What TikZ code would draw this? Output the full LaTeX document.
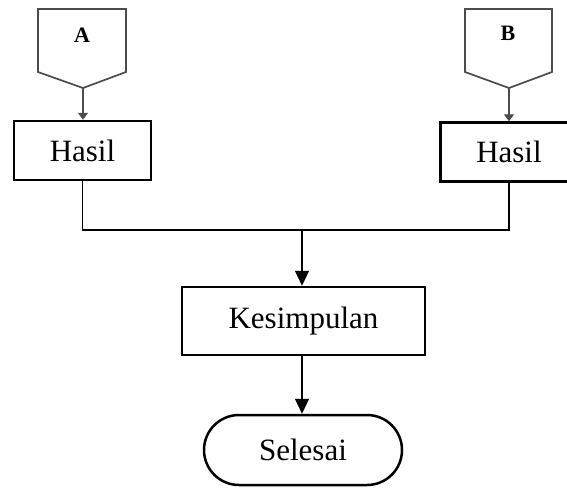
\documentclass[tikz,border=0pt]{standalone}
\usepackage{fontspec}
\setmainfont{Liberation Serif}
\usetikzlibrary{arrows.meta}
\begin{document}
\begin{tikzpicture}[x=1pt,y=-1pt,
  procbox/.style={draw=black,line width=2.5pt,fill=white,inner sep=0pt,
    minimum width=137pt,minimum height=59pt,font=\fontsize{31}{37}\selectfont},
  offpage/.style={draw=black!70,line width=1.7pt,line join=miter},
  offlabel/.style={inner sep=0pt,font=\fontsize{22}{26}\selectfont\bfseries},
  smallarrow/.style={draw=black!70,line width=1.4pt,-{Triangle[width=10pt,length=7pt]}},
  conn/.style={draw=black,line width=1.1pt},
  bigarrow/.style={draw=black,line width=1.2pt,-{Triangle[width=14pt,length=15pt]}}
]
\useasboundingbox[fill=white] (0,0) rectangle (567,488);
% off-page connectors
\draw[offpage] (38,9) -- (126,9) -- (126,72) -- (83,88) coordinate (Apt) -- (38,72) -- cycle;
\node[offlabel] (A) at (82,35) {A};
\draw[offpage] (465,9) -- (552,9) -- (552,72) -- (509,88) coordinate (Bpt) -- (465,72) -- cycle;
\node[offlabel] (B) at (508,33) {B};
% process boxes
\node[procbox] (hA) at (82.5,150.5) {Hasil};
\node[procbox] (hB) at (509,152) {Hasil};
\node[procbox,minimum width=243pt,minimum height=68pt] (kes) at (303.5,321) {Kesimpulan};
\node[draw=black,line width=2.5pt,inner sep=0pt,minimum width=198pt,minimum height=70pt,
  rounded corners=35pt,font=\fontsize{31}{37}\selectfont] (sel) at (303,450) {Selesai};
% connectors
\draw[smallarrow] (Apt) -- (Apt |- hA.north);
\draw[smallarrow] (Bpt) -- (Bpt |- hB.north);
\coordinate (jL) at (hA.south |- 0,230);
\coordinate (jR) at (hB.south |- 0,230);
\coordinate (jM) at (302,230);
\draw[conn] (hA.south) -- (jL) -- (jR) -- (hB.south);
\draw[bigarrow] (jM) -- (jM |- kes.north);
\draw[bigarrow] (kes.south -| jM) -- (jM |- sel.north);
\end{tikzpicture}
\end{document}
